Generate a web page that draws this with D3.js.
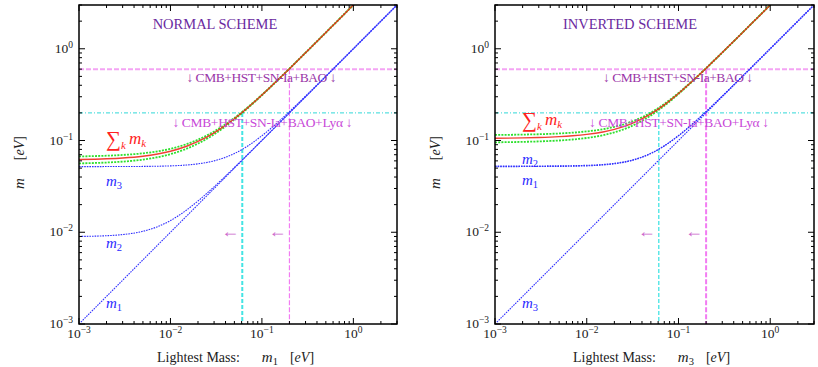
<!DOCTYPE html>
<html><head><meta charset="utf-8">
<script src="https://cdn.jsdelivr.net/npm/d3@7/dist/d3.min.js"></script>
<style>
body{margin:0;background:#fff;}
svg{display:block;}
text{font-family:"Liberation Serif","DejaVu Serif",serif;}
</style></head>
<body><svg id="c" width="818" height="367"></svg>
<script>
// ---- data (eV) ----
const lightest   = [0.001,0.002,0.003,0.005,0.007,0.01,0.015,0.02,0.03,0.05,0.07,0.1,0.15,0.2,0.3,0.5,0.7,1,2,3];
// normal scheme
const normM2     = [0.0090,0.00917,0.00943,0.01025,0.01136,0.01342,0.01746,0.02191,0.0313,0.0508,0.07057,0.1004,0.15027,0.2002,0.30013,0.50008,0.70006,1.00004,2.00002,3.00001];
const normM3     = [0.05197,0.0520,0.05205,0.0522,0.05243,0.05292,0.05408,0.05568,0.06,0.07211,0.08718,0.1127,0.1587,0.2066,0.3045,0.5027,0.7019,1.00135,2.0007,3.00045];
const normSum    = [0.0620,0.06317,0.06448,0.06745,0.07079,0.07634,0.08654,0.09759,0.1213,0.1729,0.2278,0.3131,0.459,0.6068,0.9046,1.5028,2.1019,3.0014,6.0007,9.0005];
const normSumHi  = [0.06712,0.0683,0.0696,0.0725,0.0758,0.0812,0.0913,0.1021,0.1255,0.1764,0.2306,0.3153,0.4606,0.6081,0.9054,1.5033,2.1023,3.0017,6.001,9.0007];
const normSumLo  = [0.05634,0.05755,0.05889,0.06192,0.06533,0.071,0.08142,0.09267,0.11682,0.16926,0.22476,0.3108,0.4574,0.6056,0.9038,1.5023,2.1016,3.0011,6.0006,9.0004];
// inverted scheme
const invM1      = [0.05197,0.0520,0.05205,0.0522,0.05243,0.05292,0.05408,0.05568,0.06,0.07211,0.08718,0.1127,0.1587,0.2066,0.3045,0.5027,0.7019,1.00135,2.0007,3.00045];
const invM2      = [0.05274,0.05276,0.05281,0.05296,0.05319,0.05367,0.05482,0.05639,0.06066,0.07266,0.08764,0.11305,0.159,0.20683,0.3046,0.50277,0.70198,1.00139,2.0007,3.00046];
const invSum     = [0.10571,0.10676,0.10786,0.11016,0.11262,0.11659,0.1239,0.13207,0.15066,0.19477,0.24482,0.32575,0.4677,0.61343,0.9091,1.50547,2.10388,3.00274,6.0014,9.0009];
const invSumHi   = [0.11495,0.11599,0.11709,0.11937,0.12178,0.12567,0.13281,0.14075,0.15876,0.20159,0.2505,0.33017,0.4709,0.61591,0.91073,1.50647,2.10463,3.00324,6.0016,9.0011];
const invSumLo   = [0.09557,0.09664,0.09774,0.10008,0.10258,0.10664,0.11419,0.12266,0.14198,0.18763,0.23894,0.32122,0.46454,0.61103,0.9074,1.50446,2.10319,3.00223,6.0011,9.0007];
// cosmological bounds on the sum, and the matching lightest-mass limits
const sumBounds      = [0.6, 0.2];
const lightestBounds = [0.2, 0.061];
const boundLabels    = ["\u2193 CMB+HST+SN-Ia+BAO \u2193", "\u2193 CMB+HST+SN-Ia+BAO+Ly\u03b1 \u2193"];
const tickExps   = [-3,-2,-1,0];
const panelTitles = ["NORMAL SCHEME","INVERTED SCHEME"];
const lightestNames = ["1","3"];

const svg = d3.select("#c");
const panels = [
  {x0:79, x1:397, title:panelTitles[0], light:lightestNames[0],
   masses:[{v:lightest},{v:normM2},{v:normM3}],
   sum:normSum, hi:normSumHi, lo:normSumLo,
   labs:[{lab:"3",y:0.052,dy:19},{lab:"2",y:0.009,dy:12},{lab:"1",y:0.00105,dy:-14}],
   sumLabBase:146, titleC:215, vMagW:1.2, vCyW:2},
  {x0:495, x1:814, title:panelTitles[1], light:lightestNames[1],
   masses:[{v:lightest},{v:invM1},{v:invM2}],
   sum:invSum, hi:invSumHi, lo:invSumLo,
   labs:[{lab:"2",y:0.052,dy:-3},{lab:"1",y:0.052,dy:18},{lab:"3",y:0.00105,dy:-14}],
   sumLabBase:127, titleC:630, vMagW:2, vCyW:1.3}
];
const yTop = 5, yBot = 324;

panels.forEach((p,pi)=>{
  const x = d3.scaleLog().domain([1e-3,3]).range([p.x0,p.x1]);
  const y = d3.scaleLog().domain([1e-3,3]).range([yBot,yTop]);
  const g = svg.append("g");
  const cid = "clip"+pi;
  svg.append("clipPath").attr("id",cid).append("rect")
    .attr("x",p.x0).attr("y",yTop).attr("width",p.x1-p.x0).attr("height",yBot-yTop);
  const plot = g.append("g").attr("clip-path",`url(#${cid})`);

  // bound lines
  plot.append("line").attr("x1",p.x0).attr("x2",p.x1)
    .attr("y1",y(sumBounds[0])).attr("y2",y(sumBounds[0]))
    .attr("stroke","#f4a4f4").attr("stroke-width",2).attr("stroke-dasharray","5,2");
  plot.append("line").attr("x1",x(lightestBounds[0])).attr("x2",x(lightestBounds[0]))
    .attr("y1",y(sumBounds[0])).attr("y2",yBot)
    .attr("stroke","#f27cf2").attr("stroke-width",p.vMagW).attr("stroke-dasharray","5,2");
  plot.append("line").attr("x1",p.x0).attr("x2",p.x1)
    .attr("y1",y(sumBounds[1])).attr("y2",y(sumBounds[1]))
    .attr("stroke","#30d8d8").attr("stroke-width",1).attr("stroke-dasharray","4,2,1,2");
  plot.append("line").attr("x1",x(lightestBounds[1])).attr("x2",x(lightestBounds[1]))
    .attr("y1",y(sumBounds[1])).attr("y2",yBot)
    .attr("stroke","#44e4e4").attr("stroke-width",p.vCyW).attr("stroke-dasharray","4,2");

  const line = vals => d3.line().curve(d3.curveMonotoneX)
    .x((d,i)=>x(lightest[i])).y(d=>y(d))(vals);

  // masses (blue dotted)
  p.masses.forEach(m=>{
    plot.append("path").attr("d",line(m.v)).attr("fill","none")
      .attr("stroke","#3030ff").attr("stroke-width",1.1).attr("stroke-dasharray","1.6,1");
  });
  // sum band then sum
  [p.hi,p.lo].forEach(v=>{
    plot.append("path").attr("d",line(v)).attr("fill","none")
      .attr("stroke","#2ee02e").attr("stroke-width",1.8).attr("stroke-dasharray","2,1.2");
  });
  plot.append("path").attr("d",line(p.sum)).attr("fill","none")
    .attr("stroke","#f01c10").attr("stroke-width",1.4).attr("opacity",0.85);

  // axes frame
  g.append("rect").attr("x",p.x0).attr("y",yTop).attr("width",p.x1-p.x0).attr("height",yBot-yTop)
    .attr("fill","none").attr("stroke","#000").attr("stroke-width",1.5);

  // ticks (inward, all sides)
  const minor=[], major=[];
  for(let e=-3;e<=0;e++){ major.push(Math.pow(10,e)); for(let k=2;k<=9;k++){const v=k*Math.pow(10,e); if(v<=3) minor.push(v);} }
  const tk = g.append("g").attr("stroke","#000").attr("stroke-width",1);
  [[major,6],[minor,3]].forEach(([arr,len])=>{
    arr.forEach(v=>{
      const xx=x(v), yy=y(v);
      tk.append("line").attr("x1",xx).attr("x2",xx).attr("y1",yBot).attr("y2",yBot-len);
      tk.append("line").attr("x1",xx).attr("x2",xx).attr("y1",yTop).attr("y2",yTop+len);
      tk.append("line").attr("y1",yy).attr("y2",yy).attr("x1",p.x0).attr("x2",p.x0+len);
      tk.append("line").attr("y1",yy).attr("y2",yy).attr("x1",p.x1).attr("x2",p.x1-len);
    });
  });
  // tick labels
  tickExps.forEach(e=>{
    const v=Math.pow(10,e);
    const tx = g.append("text").attr("x",x(v)).attr("y",yBot+14).attr("text-anchor","middle")
      .attr("font-size",13.5).attr("fill","#222");
    tx.append("tspan").text("10");
    tx.append("tspan").attr("dy",-5).attr("font-size",9.5).text(e===0?"0":"\u2212"+(-e));
    const ty = g.append("text").attr("x",p.x0-6).attr("y",y(v)+4).attr("text-anchor","end")
      .attr("font-size",13.5).attr("fill","#222");
    ty.append("tspan").text("10");
    ty.append("tspan").attr("dy",-5).attr("font-size",9.5).text(e===0?"0":"\u2212"+(-e));
  });

  // titles
  g.append("text").attr("x",p.titleC).attr("y",29).attr("text-anchor","middle")
    .attr("font-size",14.5).attr("fill","#6a2aa0").text(p.title);
  // bound labels
  g.append("text").attr("x",x(lightestBounds[0])-28).attr("y",y(sumBounds[0])+13).attr("text-anchor","middle")
    .attr("font-size",13.5).attr("fill","#9a36a8").attr("textLength",150).attr("lengthAdjust","spacing").text(boundLabels[0]);
  g.append("text").attr("x",x(lightestBounds[0])-27).attr("y",y(sumBounds[1])+14).attr("text-anchor","middle")
    .attr("font-size",13.5).attr("fill","#c848d8").attr("textLength",180).attr("lengthAdjust","spacing").text(boundLabels[1]);
  // arrows
  lightestBounds.forEach(b=>{
    g.append("text").attr("x",x(b)-3).attr("y",y(0.01)+5).attr("text-anchor","end")
      .attr("font-size",18).attr("fill","#cc66cc").text("\u2190");
  });

  // curve labels
  p.labs.forEach(l=>{
    const t = g.append("text").attr("x",p.x0+27).attr("y",y(l.y)+l.dy).attr("font-size",15).attr("fill","#2a2aff");
    t.append("tspan").attr("font-style","italic").text("m");
    t.append("tspan").attr("dy",3).attr("font-size",10.5).text(l.lab);
  });
  const st = g.append("text").attr("x",p.x0+27).attr("y",p.sumLabBase).attr("fill","#ff2222").attr("font-size",17);
  st.append("tspan").attr("font-size",21).text("\u2211");
  st.append("tspan").attr("dy",3).attr("font-size",11).attr("font-style","italic").text("k");
  st.append("tspan").attr("dy",-5).attr("dx",3).attr("font-style","italic").text("m");
  st.append("tspan").attr("dy",3).attr("font-size",11).attr("font-style","italic").text("k");

  // axis titles
  const xl = g.append("text").attr("x",p.x0+78).attr("y",362).attr("font-size",14).attr("fill","#222");
  xl.append("tspan").text("Lightest Mass:");
  xl.append("tspan").attr("dx",22).attr("font-style","italic").attr("font-size",15).text("m");
  xl.append("tspan").attr("dy",3).attr("font-size",10.5).text(p.light);
  xl.append("tspan").attr("dy",-3).attr("dx",12).text("[");
  xl.append("tspan").attr("font-style","italic").text("eV");
  xl.append("tspan").text("]");
  const yl = g.append("text").attr("transform",`translate(${p.x0-55},${(yTop+yBot)/2-2}) rotate(-90)`)
    .attr("text-anchor","middle").attr("font-size",14).attr("fill","#222");
  yl.append("tspan").attr("font-style","italic").attr("font-size",15).text("m");
  yl.append("tspan").attr("dx",18).text("[");
  yl.append("tspan").attr("font-style","italic").text("eV");
  yl.append("tspan").text("]");
});
</script></body></html>
